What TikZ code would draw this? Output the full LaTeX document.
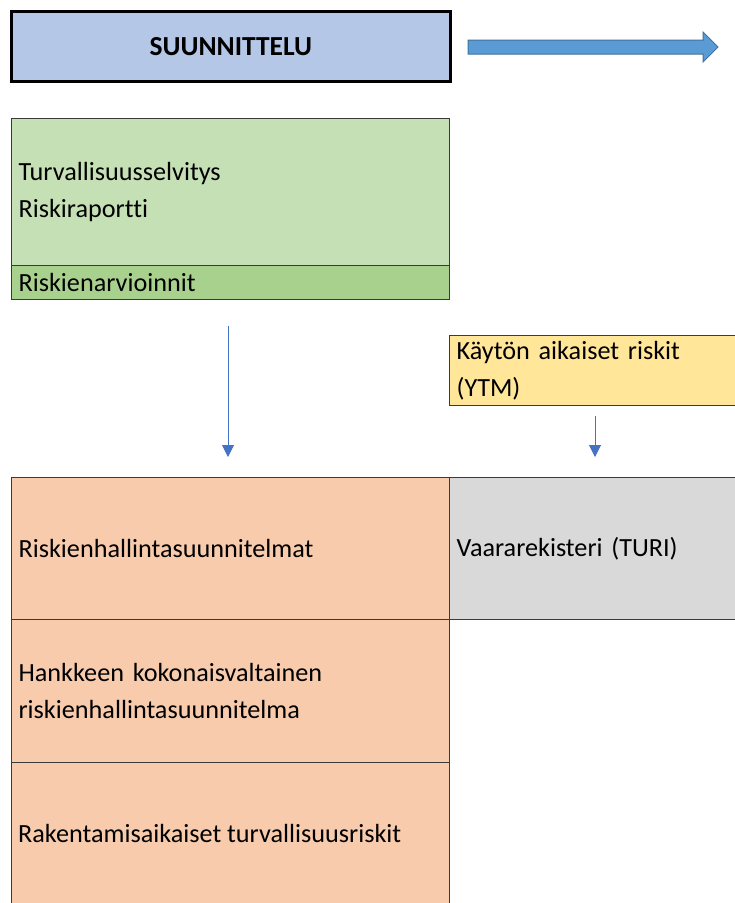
\documentclass[tikz,border=0pt]{standalone}
\usepackage{fontspec}
\setmainfont{Carlito}[Ligatures=CommonOff]
\usetikzlibrary{arrows.meta}
\definecolor{cblue}{HTML}{B4C7E7}
\definecolor{cgreen}{HTML}{C5E0B4}
\definecolor{cband}{HTML}{A9D18E}
\definecolor{cyellow}{HTML}{FFE699}
\definecolor{corange}{HTML}{F8CBAD}
\definecolor{cgray}{HTML}{D9D9D9}
\definecolor{cborder}{HTML}{3A3A3A}
\definecolor{cflow}{HTML}{5B9BD5}
\definecolor{cflowline}{HTML}{41719C}
\definecolor{cthin}{HTML}{4472C4}
\tikzset{
  cell/.style={draw=cborder, line width=1.2pt, align=left, inner xsep=7pt, inner ysep=0pt,
    anchor=north west, font=\fontsize{26.2}{37}\selectfont},
  leftcell/.style={cell, text width=424pt, minimum width=438pt},
  rightcell/.style={cell, text width=286pt, minimum width=300pt},
  thinarrow/.style={draw=cthin, line width=1pt, -{Triangle[width=12pt,length=12pt]}},
}
\begin{document}
\begin{tikzpicture}[x=1pt,y=-1pt]
\clip (0,0) rectangle (735,903);
\fill[white] (0,0) rectangle (735,903);
% title
\node[draw=black, line width=2.6pt, fill=cblue, minimum width=439pt, minimum height=70pt,
  anchor=north west, font=\fontsize{27.5}{32}\selectfont\bfseries] (title) at (10,10) {SUUNNITTELU};
% big flow arrow
\draw[fill=cflow, draw=cflowline, line width=1pt]
  (468,40) -- (703,40) -- (703,32) -- (718,47) -- (703,62) -- (703,54) -- (468,54) -- cycle;
% green block
\node[leftcell, fill=cgreen, minimum height=147pt] (tur) at (11,118) {Turvallisuusselvitys\\Riskiraportti};
\node[leftcell, fill=cband, minimum height=34pt] (band) at (11,265) {Riskienarvioinnit};
% yellow
\node[rightcell, fill=cyellow, minimum height=70pt] (ytm) at (449,335) {Käytön aikaiset riskit\\(YTM)};
% lower table
\node[leftcell, fill=corange, minimum height=142pt] (r1) at (11,477) {Riskienhallintasuunnitelmat};
\node[rightcell, fill=cgray, minimum height=142pt] (turi) at (449,477) {Vaararekisteri (TURI)};
\node[leftcell, fill=corange, minimum height=143pt] (r2) at (11,619) {Hankkeen kokonaisvaltainen\\riskienhallintasuunnitelma};
\node[leftcell, fill=corange, minimum height=150pt] (r3) at (11,762) {};
\node[anchor=west, font=\fontsize{26.2}{37}\selectfont, inner sep=0pt] (r3t) at (18,833) {Rakentamisaikaiset turvallisuusriskit};
% thin arrows
\coordinate (a1s) at (228,326);
\coordinate (a1e) at (228,457);
\coordinate (a2s) at (595,416);
\coordinate (a2e) at (595,457);
\draw[thinarrow] (a1s) -- (a1e);
\draw[thinarrow] (a2s) -- (a2e);
\end{tikzpicture}
\end{document}
